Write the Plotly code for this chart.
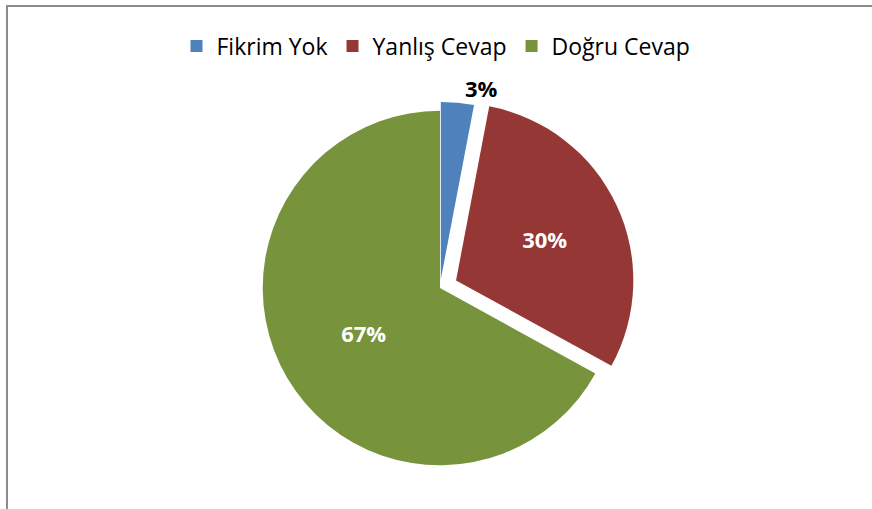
import plotly.graph_objects as go

labels = ["Fikrim Yok", "Yanlış Cevap", "Doğru Cevap"]
values = [3, 30, 67]
colors = ["#4F81BD", "#953735", "#77933C"]
pulls = [0.05, 0.1, 0]

W, H = 872, 509
cx, cy, r = 440, 288, 195

fig = go.Figure(go.Pie(
    labels=labels,
    values=values,
    sort=False,
    direction="clockwise",
    rotation=0,
    pull=pulls,
    marker=dict(colors=colors, line=dict(width=0)),
    texttemplate="<b>%{percent:.0%}</b>",
    textposition=["outside", "inside", "inside"],
    textfont=dict(family="Open Sans", size=22, color=["#000000", "#FFFFFF", "#FFFFFF"]),
    insidetextorientation="horizontal",
    domain=dict(x=[(cx - r) / W, (cx + r) / W], y=[1 - (cy + r) / H, 1 - (cy - r) / H]),
    hoverinfo="label+percent",
))

fig.update_layout(
    width=W, height=H,
    margin=dict(l=0, r=0, t=0, b=0),
    paper_bgcolor="white",
    plot_bgcolor="white",
    font=dict(family="Open Sans", color="#000000"),
    showlegend=True,
    legend=dict(orientation="h", x=0.5, xanchor="center", y=1 - 46 / H, yanchor="middle",
                font=dict(size=23, family="Open Sans"), traceorder="normal",
                itemwidth=30),
    shapes=[dict(type="rect", xref="paper", yref="paper",
                 x0=7 / W, y0=-0.05, x1=1.05, y1=1 - 6 / H,
                 line=dict(color="#8C8C8C", width=2), fillcolor="rgba(0,0,0,0)")],
)

fig.write_html("out.html", config={"displayModeBar": False},
               post_script="document.body.style.margin='0';")
